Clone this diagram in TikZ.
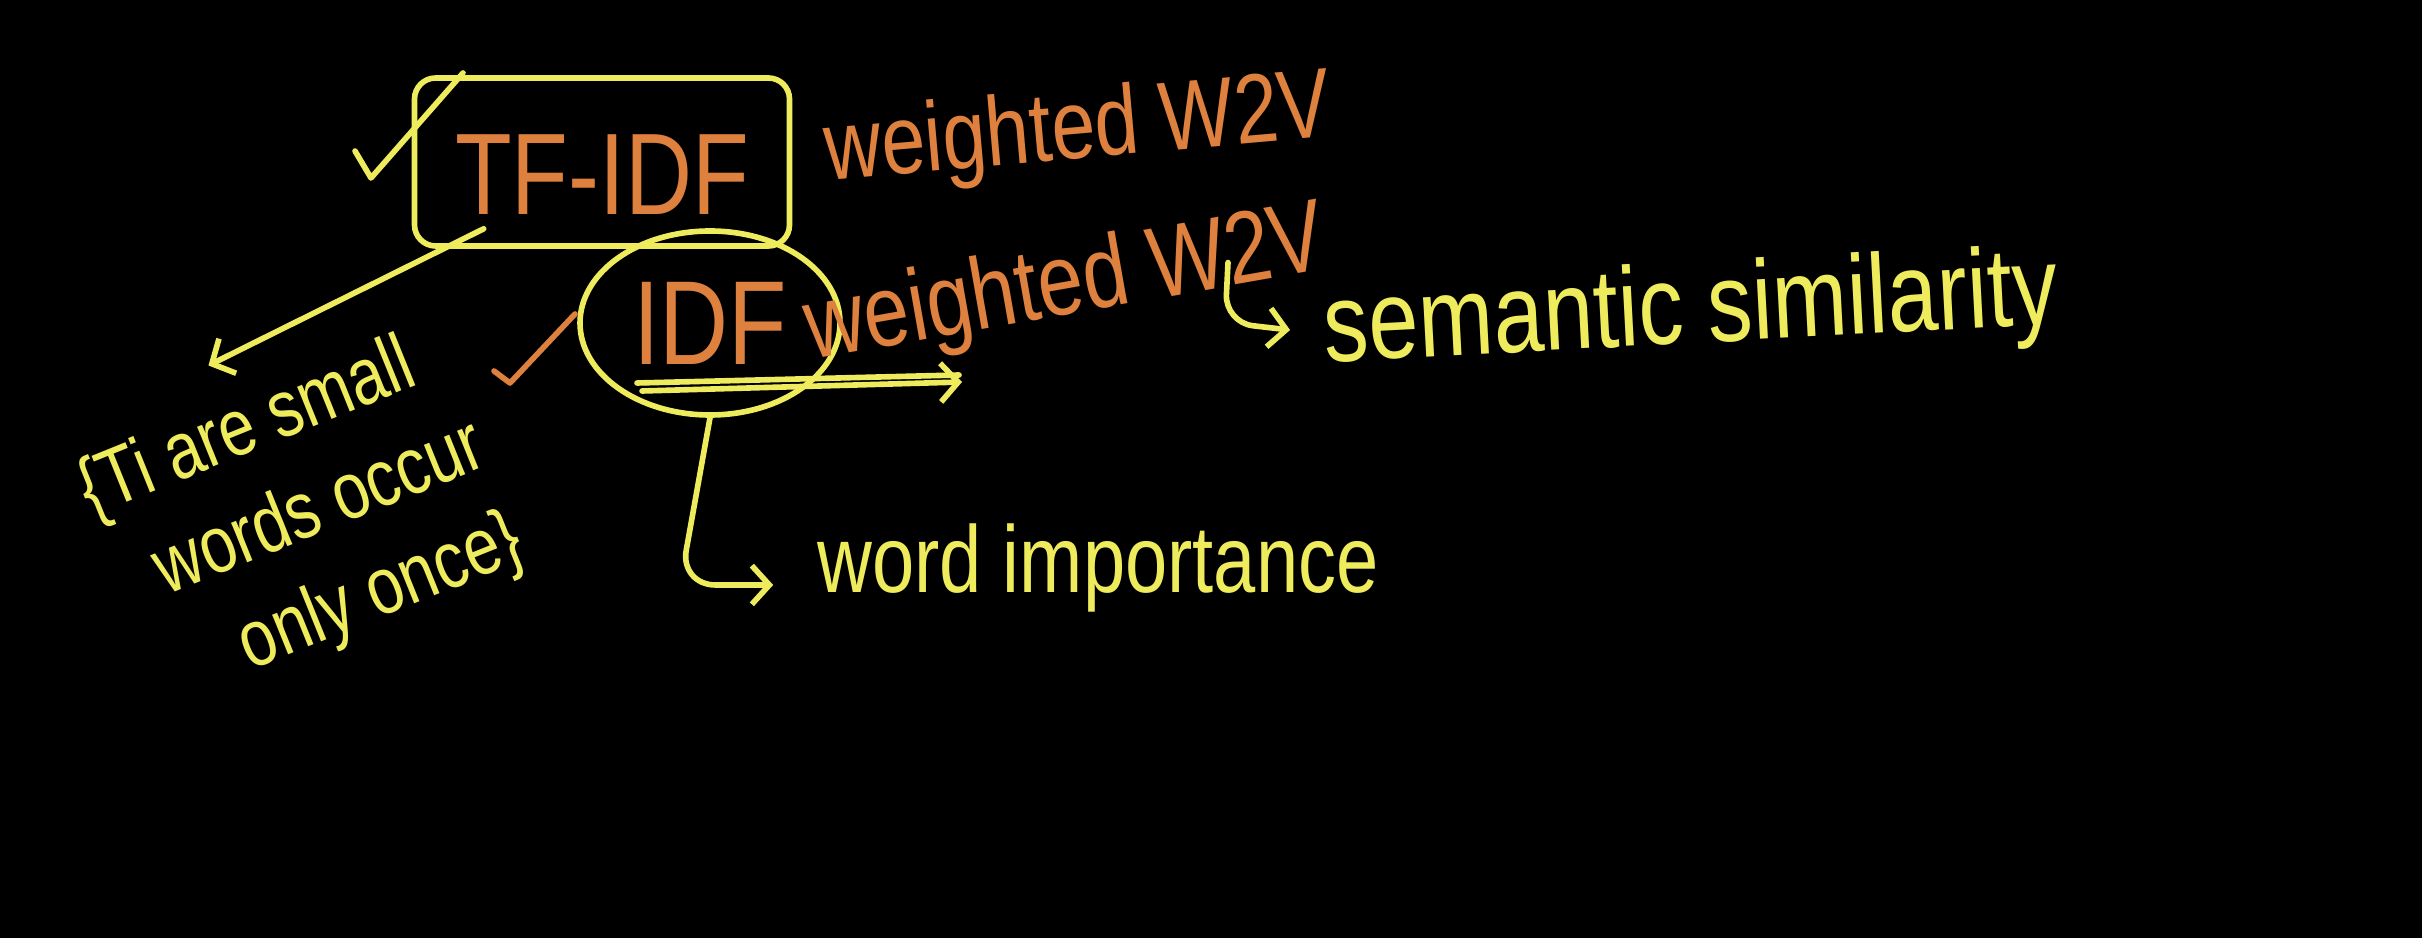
\documentclass[tikz,border=0pt]{standalone}
\usepackage{fontspec}
\newfontfamily\hand[FakeStretch=0.8]{Liberation Sans}
\usetikzlibrary{positioning, arrows.meta, shapes.geometric}
\definecolor{chalkorange}{RGB}{222,128,62}
\definecolor{chalkyellow}{RGB}{238,236,92}

\begin{document}
\begin{tikzpicture}[
    hw/.style={font=\hand\fontsize{#1}{1.25\dimexpr#1\relax}\selectfont, inner sep=1pt},
    otext/.style={hw=#1, text=chalkorange},
    ytext/.style={hw=#1, text=chalkyellow},
    pen/.style={draw=chalkyellow, line width=1.6pt, line cap=round, line join=round},
    open/.style={pen, draw=chalkorange},
    arr/.style={pen, -{Straight Barb[length=5pt, width=11pt]}},
]
    \fill[black] (0,0) rectangle (24.22,9.38);
    \useasboundingbox (0,0) rectangle (24.22,9.38);

    % boxed and circled terms
    \node[otext=33pt, pen, rounded corners=6pt, minimum width=3.75cm, minimum height=1.68cm, text height=1.05cm] (tfidf) at (6.02,7.76) {TF-IDF};
    \node[otext=28pt, rotate=5] (wone) at (10.78,8.05) {weighted W2V};
    \node[otext=34pt, pen, ellipse, minimum width=2.6cm, minimum height=1.84cm, inner sep=0pt] (idf) at (7.10,6.15) {IDF};
    \node[otext=29pt, rotate=10] (wtwo) at (10.66,6.50) {weighted W2V};

    % note on the left
    \node[ytext=23pt, rotate=22, align=left] (note) at (3.02,4.20)
        {\{Ti are small\\\hspace{0.4cm}words occur\\\hspace{0.9cm}only once\}};

    \node[ytext=27pt] (imp) at (10.98,3.70) {word importance};
    \node[ytext=32pt, rotate=3] (sem) at (16.91,6.24) {semantic similarity};

    % ticks
    \draw[pen] (3.55,7.87) -- (3.71,7.60) -- (4.63,8.65);
    \draw[open] (4.94,5.67) -- (5.10,5.55) -- (5.75,6.24);

    % double underline
    \draw[pen] (6.37,5.55) -- (9.59,5.63);
    \draw[arr] (6.42,5.47) -- (9.62,5.56);

    \draw[arr] ([xshift=0.72cm, yshift=0.2cm]tfidf.south west) -- ([xshift=-0.4cm, yshift=0.2cm]note.north);
    \draw[arr, rounded corners=10pt, shorten >=0.4cm] (idf.south) -- ([xshift=-0.3cm]idf.south |- imp.mid west) -- (imp.mid west);
    \draw[arr, rounded corners=8pt, shorten >=0.3cm] ([xshift=-1.1cm, yshift=0.3cm]wtwo.south east) -- ++(-0.03,-0.6) -- (sem.west);
\end{tikzpicture}
\end{document}
